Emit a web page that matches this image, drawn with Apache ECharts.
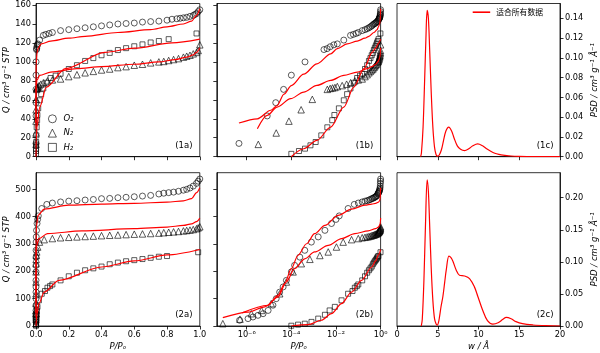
<!DOCTYPE html>
<html>
<head>
<meta charset="utf-8">
<script src="https://cdn.jsdelivr.net/npm/echarts@6/dist/echarts.min.js"></script>
<style>
  html, body { margin: 0; padding: 0; background: #fff; }
  #chart { width: 600px; height: 353px; }
</style>
</head>
<body>
<div id="chart"></div>
<script>
// ---- material 1, measured (P/Po, Q) ----
const p1O2 = [4.5e-7, 8.3e-6, 2.0e-5, 4.5e-5, 1.0e-4, 4.1e-4, 2.9e-3, 4.0e-3, 5.5e-3, 8.0e-3, 0.0115, 0.0224, 0.045, 0.06, 0.08, 0.1, 0.15, 0.2, 0.25, 0.3, 0.35, 0.4, 0.45, 0.5, 0.55, 0.6, 0.65, 0.7, 0.75, 0.8, 0.83, 0.86, 0.88, 0.9, 0.92, 0.94, 0.96, 0.97, 0.98, 0.99, 1.0];
const q1O2 = [14, 43, 57, 71, 86, 100, 113, 114, 116, 118, 119, 123, 128, 129, 130, 131, 133, 134, 135, 136, 137, 138, 139, 140, 140.5, 141, 142, 142.5, 143, 144, 145, 145.5, 146, 146.5, 147, 148, 149, 150, 151, 153, 155];
const p1N2 = [3.3e-6, 2.1e-5, 7.8e-5, 2.75e-4, 8.7e-4, 4.1e-3, 5.5e-3, 7e-3, 9e-3, 0.0115, 0.019, 0.03, 0.045, 0.07, 0.1, 0.15, 0.2, 0.25, 0.3, 0.35, 0.4, 0.45, 0.5, 0.55, 0.6, 0.65, 0.7, 0.75, 0.78, 0.81, 0.84, 0.87, 0.9, 0.92, 0.94, 0.96, 0.98, 0.99, 1.0];
const q1N2 = [13, 25, 37.5, 49.5, 60.5, 71, 72, 72.5, 73, 74, 75, 76.5, 78, 80, 81, 82, 84.5, 86.5, 88.5, 90, 91.5, 92.5, 94, 95, 96.5, 97.5, 99, 100, 100.5, 101.5, 102.5, 103.5, 105, 106, 107, 108.5, 110, 112, 118];
const p1H2 = [1e-4, 2.2e-4, 4.1e-4, 7.2e-4, 1.23e-3, 2.2e-3, 4.1e-3, 6.8e-3, 8.5e-3, 0.0135, 0.0224, 0.0316, 0.0447, 0.063, 0.089, 0.12, 0.15, 0.2, 0.25, 0.3, 0.35, 0.4, 0.45, 0.5, 0.55, 0.6, 0.65, 0.7, 0.75, 0.81, 0.98];
const q1H2 = [3, 6, 8.5, 12, 15.5, 22.5, 31, 38.5, 44, 51, 59.5, 66, 72, 78, 83, 85.5, 87.5, 92.5, 96.5, 101, 104, 107, 109.5, 112.5, 114.5, 116.5, 118.5, 120.5, 122, 124, 130];

// ---- material 1, fitted model ----
const p1O2fit = [4.5e-7, 3e-6, 1.2e-5, 2.3e-5, 4.7e-5, 1e-4, 3.6e-4, 1.4e-3, 5.8e-3, 0.0115, 0.032, 0.09, 0.2, 0.3, 0.5, 0.7, 0.8, 0.9, 0.95, 0.98, 1.0];
const q1O2fit = [35.5, 40, 49, 54, 66, 75, 87, 98, 108.5, 114, 119, 122, 125, 127, 131, 134, 137, 140, 143, 149, 156];
const p1N2fit = [3e-6, 8.3e-6, 2.3e-5, 9.3e-5, 3.6e-4, 1.4e-3, 5.8e-3, 0.0224, 0.09, 0.25, 0.4, 0.6, 0.75, 0.85, 0.92, 0.96, 0.98, 1.0];
const q1N2fit = [29.5, 43.6, 52.3, 61.2, 68.2, 75.2, 80.5, 85.8, 89.2, 92.8, 95, 97.5, 100, 102.5, 105, 107.5, 110, 115];
const p1H2fit = [1e-4, 3.6e-4, 1.4e-3, 5.8e-3, 0.0224, 0.063, 0.18, 0.42, 0.6, 0.83, 1.0];
const q1H2fit = [0, 8.4, 17.2, 31.2, 52.3, 73.4, 93, 110, 114.5, 120, 124];

// ---- material 2, measured ----
const p2O2 = [4.8e-7, 1.15e-6, 1.9e-6, 3.2e-6, 5.4e-6, 9.1e-6, 1.5e-5, 2.1e-5, 3e-5, 4.3e-5, 6e-5, 1e-4, 1.4e-4, 2.4e-4, 4e-4, 7.9e-4, 1.6e-3, 3.2e-3, 6.3e-3, 0.01, 0.014, 0.035, 0.066, 0.1, 0.15, 0.2, 0.25, 0.3, 0.35, 0.4, 0.45, 0.5, 0.55, 0.6, 0.65, 0.7, 0.75, 0.78, 0.81, 0.84, 0.87, 0.9, 0.92, 0.94, 0.96, 0.98, 0.99, 1.0];
const q2O2 = [21, 27, 33, 39, 45, 57, 76, 100, 124, 143, 167, 198, 222, 252, 277, 307, 326, 350, 375, 390, 403, 430, 445, 450, 454, 457, 458.5, 461, 463, 466, 467, 469.5, 471, 473, 475.5, 478, 483, 486, 488, 490, 493, 497, 500, 505, 512, 522, 530, 538];
const p2N2 = [8.5e-8, 5e-7, 1.6e-6, 4.6e-6, 1.26e-5, 3e-5, 6e-5, 1.2e-4, 2.8e-4, 6.8e-4, 1.9e-3, 4.5e-3, 0.0105, 0.021, 0.05, 0.1, 0.15, 0.2, 0.25, 0.3, 0.35, 0.4, 0.45, 0.5, 0.55, 0.6, 0.65, 0.7, 0.75, 0.78, 0.81, 0.84, 0.87, 0.9, 0.92, 0.94, 0.96, 0.98, 0.99, 1.0];
const q2N2 = [8.5, 25, 45, 57, 82, 118, 161, 198, 228, 244, 258, 271, 289, 307, 316, 320, 323, 324.5, 326, 327.5, 329, 330.5, 332, 333, 334.5, 336, 337, 338.5, 340, 341.5, 343, 344.5, 346, 348, 349.5, 351, 353, 356, 359, 363];
const p2H2 = [1e-4, 2e-4, 4e-4, 8e-4, 1.6e-3, 3.2e-3, 5.2e-3, 8.9e-3, 0.0178, 0.035, 0.055, 0.07, 0.086, 0.1, 0.15, 0.2, 0.25, 0.3, 0.35, 0.4, 0.45, 0.5, 0.55, 0.6, 0.65, 0.7, 0.75, 0.8, 0.99];
const q2H2 = [1, 5, 8.5, 15, 27, 41, 57, 70, 94, 118, 128, 140, 146, 152, 167, 182, 195, 204, 211, 217.5, 226, 232, 237, 241, 245, 249.5, 253.5, 256, 270];

// ---- material 2, fitted model ----
const p2O2fit = [6.3e-7, 9e-6, 2.5e-5, 5e-5, 1e-4, 2e-4, 4.8e-4, 1.1e-3, 3.2e-3, 0.0126, 0.05, 0.2, 0.4, 0.6, 0.8, 0.9, 0.95, 0.98, 1.0];
const q2O2fit = [48, 76, 112, 155, 210, 259, 301, 338, 368, 405, 428, 442, 446, 449, 453, 458, 466, 488, 506];
const p2N2fit = [8.5e-8, 1.15e-6, 6.5e-6, 2.5e-5, 6e-5, 1.4e-4, 4e-4, 1.1e-3, 4.5e-3, 0.0178, 0.07, 0.28, 0.6, 0.8, 0.9, 0.95, 0.98, 1.0];
const q2N2fit = [30.5, 51, 70, 106, 161, 210, 246, 271, 295, 320, 338, 348, 356, 362, 368, 374, 382, 395];
const p2H2fit = [1e-4, 5.6e-4, 2.2e-3, 6.3e-3, 0.0178, 0.05, 0.14, 0.4, 0.6, 0.8, 1.0];
const q2H2fit = [0, 5, 21, 45, 82, 124, 167, 216, 238, 260, 280];

// ---- pore size distributions ----
const w1 = [2.9, 3.0, 3.2, 3.4, 3.55, 3.7, 3.85, 4.0, 4.2, 4.4, 4.6, 4.8, 5.0, 5.2, 5.45, 5.7, 6.0, 6.35, 6.7, 7.0, 7.4, 7.8, 8.3, 8.8, 9.3, 9.9, 10.5, 11.0, 11.5, 12.0, 12.5, 13.0, 14.0, 15.0, 16.0, 17.0, 20.0];
const psd1 = [0, 0.004, 0.03, 0.08, 0.12, 0.148, 0.14, 0.11, 0.065, 0.03, 0.01, 0.002, 0.0005, 0.002, 0.007, 0.016, 0.026, 0.030, 0.026, 0.019, 0.011, 0.0075, 0.0062, 0.008, 0.011, 0.0129, 0.011, 0.008, 0.0055, 0.0035, 0.0023, 0.0015, 0.0007, 0.0003, 0.0001, 0, 0];
const w2 = [2.98, 3.1, 3.3, 3.5, 3.7, 3.85, 4.0, 4.2, 4.4, 4.6, 4.8, 4.95, 5.1, 5.22, 5.4, 5.63, 5.85, 6.04, 6.37, 6.6, 6.86, 7.27, 7.67, 8.29, 8.9, 9.5, 9.92, 10.5, 11.1, 11.76, 12.4, 13.0, 13.4, 14.0, 14.6, 15.4, 16.7, 18.3, 20];
const psd2 = [0, 0.01, 0.07, 0.16, 0.228, 0.21, 0.16, 0.09, 0.04, 0.012, 0.003, 0.0015, 0.006, 0.0145, 0.03, 0.046, 0.068, 0.087, 0.109, 0.107, 0.101, 0.087, 0.079, 0.078, 0.074, 0.061, 0.046, 0.025, 0.0083, 0.003, 0.005, 0.0104, 0.0135, 0.0114, 0.0068, 0.0036, 0.0016, 0.0005, 0];

// ---- ticks ----
const qTicks1 = [0, 20, 40, 60, 80, 100, 120, 140, 160];
const qTicks2 = [0, 100, 200, 300, 400, 500];
const pTicks = [0, 0.2, 0.4, 0.6, 0.8, 1.0];
const logTicks = [-6, -4, -2, 0];
const wTicks = [0, 5, 10, 15, 20];
const psdTicks1 = [0, 0.02, 0.04, 0.06, 0.08, 0.1, 0.12, 0.14];
const psdTicks2 = [0, 0.05, 0.1, 0.15, 0.2];
const gasNames = ['O₂', 'N₂', 'H₂'];
const panelTags = ['(1a)', '(1b)', '(1c)', '(2a)', '(2b)', '(2c)'];
const fitName = '适合所有数据';

const FONT = 'DejaVu Sans';
const black = {color: '#000', width: 0.8};
const RED = '#ff0000';

const cols = [36, 216.8, 397];
const rows = [{top: 3.5, height: 153.2}, {top: 172.7, height: 153.3}];
const panelW = 163.8;
const grids = [];
rows.forEach(r => cols.forEach(c => grids.push({left: c, top: r.top, width: panelW, height: r.height, show: true, borderColor: '#000', borderWidth: 0.8})));

const supMap = {'-': '⁻', '0': '⁰', '1': '¹', '2': '²', '3': '³', '4': '⁴', '5': '⁵', '6': '⁶', '7': '⁷', '8': '⁸', '9': '⁹'};
const logFmt = v => '10' + String(v).split('').map(ch => supMap[ch]).join('');

const nameStyle = {fontFamily: FONT, fontStyle: 'italic', fontSize: 8.5, color: '#000'};

function makeAxis(gridIndex, min, max, ticks, fmt, extra) {
  return Object.assign({
    type: 'value', gridIndex: gridIndex, min: min, max: max,
    axisLine: {show: true, onZero: false, lineStyle: black},
    axisTick: {show: true, length: 3.5, lineStyle: black, customValues: ticks},
    axisLabel: {show: !!fmt, customValues: ticks, formatter: fmt, color: '#000', fontFamily: FONT, fontSize: 8.2, margin: 5},
    splitLine: {show: false},
    nameTextStyle: nameStyle
  }, extra || {});
}

const qName = 'Q / cm³ g⁻¹ STP';
const psdName = 'PSD / cm³ g⁻¹ Å⁻¹';
const pName = 'P/Pₒ';

const xAxes = [
  makeAxis(0, 0, 1, pTicks, null),
  makeAxis(1, -7.34, 0, logTicks, null),
  makeAxis(2, 0, 20, wTicks, null),
  makeAxis(3, 0, 1, pTicks, v => v.toFixed(1), {name: pName, nameLocation: 'middle', nameGap: 16}),
  makeAxis(4, -7.34, 0, logTicks, logFmt, {name: pName, nameLocation: 'middle', nameGap: 16}),
  makeAxis(5, 0, 20, wTicks, v => String(v), {name: 'w / Å', nameLocation: 'middle', nameGap: 16})
];
const yAxes = [
  makeAxis(0, 0, 161.6, qTicks1, v => String(v), {name: qName, nameLocation: 'middle', nameRotate: 90, nameGap: 21}),
  makeAxis(1, 0, 161.6, qTicks1, null),
  makeAxis(2, 0, 0.155, psdTicks1, v => v.toFixed(2), {position: 'right', name: psdName, nameLocation: 'middle', nameRotate: 90, nameGap: 30}),
  makeAxis(3, 0, 561, qTicks2, v => String(v), {name: qName, nameLocation: 'middle', nameRotate: 90, nameGap: 21}),
  makeAxis(4, 0, 561, qTicks2, null),
  makeAxis(5, 0, 0.239, psdTicks2, v => v.toFixed(2), {position: 'right', name: psdName, nameLocation: 'middle', nameRotate: 90, nameGap: 30})
];

function pts(P, Q, useLog) {
  return P.map((p, i) => [useLog ? Math.log10(p) : p, Q[i]]);
}

const materials = [
  {panels: [0, 1], meas: [[p1O2, q1O2], [p1N2, q1N2], [p1H2, q1H2]], fit: [[p1O2fit, q1O2fit], [p1N2fit, q1N2fit], [p1H2fit, q1H2fit]]},
  {panels: [3, 4], meas: [[p2O2, q2O2], [p2N2, q2N2], [p2H2, q2H2]], fit: [[p2O2fit, q2O2fit], [p2N2fit, q2N2fit], [p2H2fit, q2H2fit]]}
];
const symbols = [{symbol: 'circle', size: 6}, {symbol: 'triangle', size: 6.5}, {symbol: 'rect', size: 5}];

const series = [];
materials.forEach(m => {
  m.panels.forEach((g, k) => {
    const useLog = k === 1;
    m.meas.forEach((d, gi) => {
      series.push({
        type: 'scatter', name: gasNames[gi], xAxisIndex: g, yAxisIndex: g,
        symbol: symbols[gi].symbol, symbolSize: symbols[gi].size,
        itemStyle: {color: 'rgba(0,0,0,0)', borderColor: '#000', borderWidth: 0.8},
        data: pts(d[0], d[1], useLog), z: 2
      });
    });
    m.fit.forEach(d => {
      series.push({
        type: 'line', name: 'fit', xAxisIndex: g, yAxisIndex: g, showSymbol: false, symbol: 'none',
        smooth: 0.3, smoothMonotone: 'x',
        lineStyle: {color: RED, width: 1.2}, data: pts(d[0], d[1], useLog), z: 3
      });
    });
  });
});
[[w1, psd1, 2], [w2, psd2, 5]].forEach(d => {
  series.push({
    type: 'line', name: fitName, xAxisIndex: d[2], yAxisIndex: d[2], symbol: 'none', smooth: 0.35,
    itemStyle: {color: RED}, lineStyle: {color: RED, width: 1.2}, data: pts(d[0], d[1], false), z: 3
  });
});

const graphic = panelTags.map((t, i) => ({
  type: 'text', x: grids[i].left + grids[i].width - 7.3, y: grids[i].top + grids[i].height - 11,
  style: {text: t, font: '8.5px "DejaVu Sans"', fill: '#000', align: 'right', verticalAlign: 'middle'}
}));

const chart = echarts.init(document.getElementById('chart'));
chart.setOption({
  animation: false,
  backgroundColor: '#fff',
  grid: grids,
  xAxis: xAxes,
  yAxis: yAxes,
  legend: [
    {
      data: gasNames, orient: 'vertical', left: 48, top: 114.3, padding: 0,
      itemWidth: 8, itemHeight: 8, itemGap: 5.3, selectedMode: false,
      itemStyle: {color: 'rgba(0,0,0,0)', borderColor: '#000', borderWidth: 0.8},
      textStyle: {fontFamily: FONT, fontStyle: 'italic', fontSize: 8.5, color: '#000', padding: [0, 0, 0, 2]}
    },
    {
      data: [{name: fitName, icon: 'rect'}], left: 472.7, top: 8.3, padding: 0,
      itemWidth: 17.5, itemHeight: 1.6, selectedMode: false,
      itemStyle: {color: RED},
      textStyle: {fontFamily: 'Noto Sans CJK SC', fontSize: 7.8, color: '#000', padding: [0, 0, 0, 1]}
    }
  ],
  graphic: graphic,
  series: series
});
</script>
</body>
</html>
